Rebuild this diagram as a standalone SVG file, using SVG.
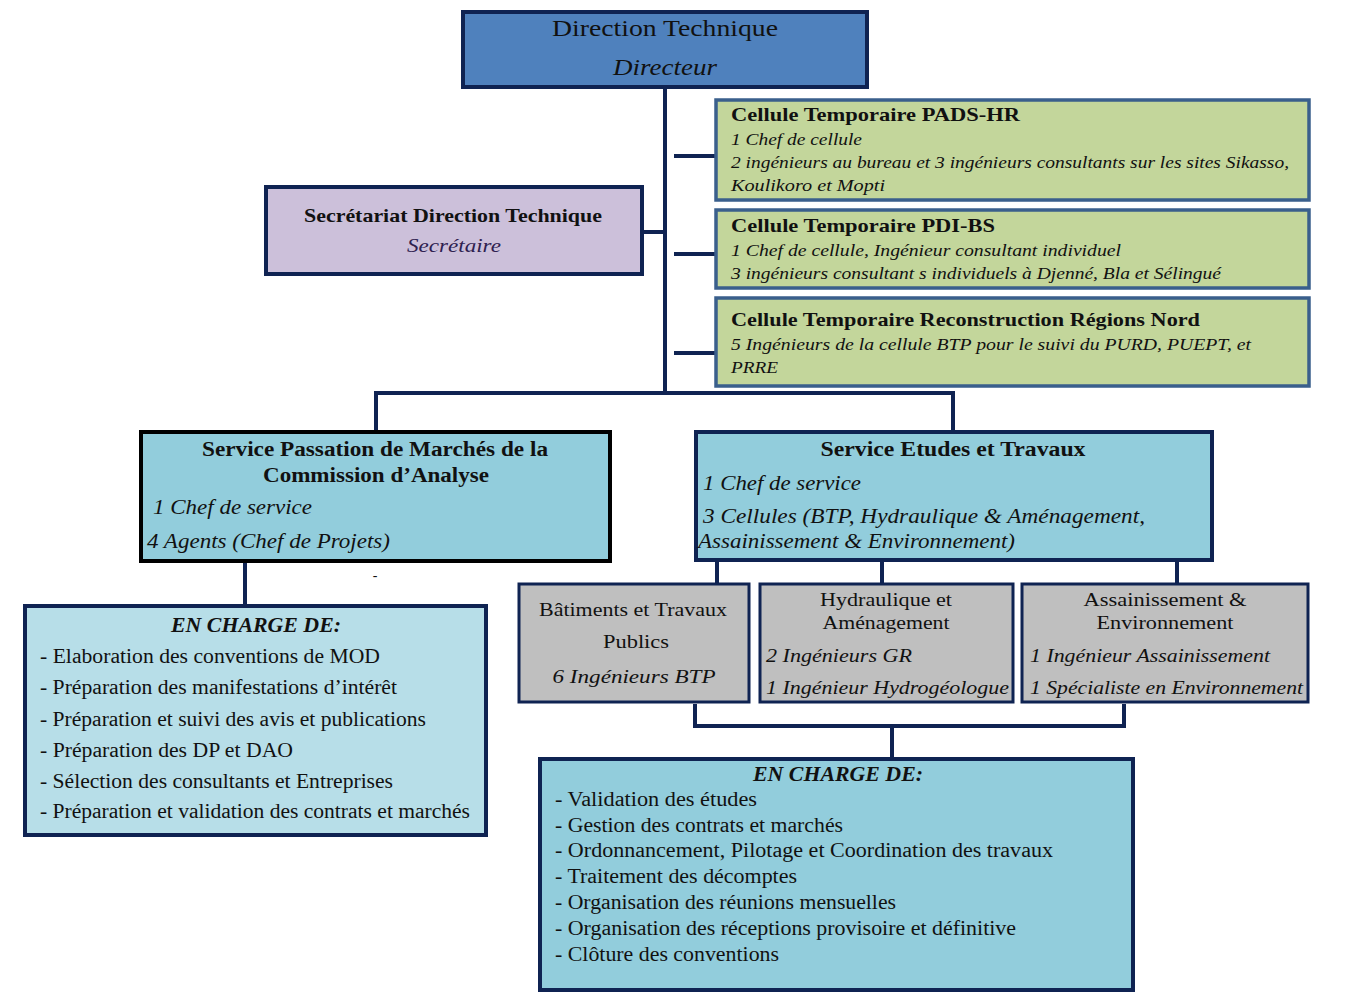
<svg xmlns="http://www.w3.org/2000/svg" width="1346" height="1004" viewBox="0 0 1346 1004" font-family="'Liberation Serif', 'DejaVu Serif', serif">
<style>
text{font-family:'Liberation Serif','DejaVu Serif',serif;fill:#111111}
.b{font-weight:bold}
.i{font-style:italic}
.c{text-anchor:middle}
.conn{stroke:#0F2352;stroke-width:4;fill:none}
.nav{stroke:#0F2352;stroke-width:4}
.grn{fill:#C3D69B;stroke:#3A5F8C;stroke-width:3.5}
.gry{fill:#BFBFBF;stroke:#0F2352;stroke-width:3}
</style>
<rect width="1346" height="1004" fill="#ffffff"/>
<g id="connectors">
<path class="conn" d="M665 87V391"/>
<path class="conn" d="M674 156H716M674 254H716M674 353H716"/>
<path class="conn" d="M643 232H665"/>
<path class="conn" d="M376 431V393H953V432"/>
<path class="conn" d="M245 561V605"/>
<path class="conn" d="M717 560V584M882 560V584M1177 560V584"/>
<path class="conn" d="M695 704V726H1124V704M892 726V758"/>
</g>
<g id="direction">
<rect x="463" y="12" width="404" height="75" fill="#4F81BD" class="nav"/>
<text x="665" y="36" class="c" font-size="24" textLength="226" lengthAdjust="spacingAndGlyphs">Direction Technique</text>
<text x="665" y="75" class="c i" font-size="24" textLength="104" lengthAdjust="spacingAndGlyphs">Directeur</text>
</g>
<g id="pads">
<rect x="716" y="100" width="593" height="100" class="grn"/>
<text x="731" y="121" class="b" font-size="19" textLength="289" lengthAdjust="spacingAndGlyphs">Cellule  Temporaire PADS-HR</text>
<text x="731" y="145" class="i" font-size="16" textLength="131" lengthAdjust="spacingAndGlyphs">1 Chef de cellule</text>
<text x="731" y="168" class="i" font-size="16" textLength="558" lengthAdjust="spacingAndGlyphs">2 ingénieurs au bureau et 3  ingénieurs consultants sur les sites Sikasso,</text>
<text x="731" y="191" class="i" font-size="16" textLength="154" lengthAdjust="spacingAndGlyphs">Koulikoro  et Mopti</text>
</g>
<g id="pdibs">
<rect x="716" y="210" width="593" height="78" class="grn"/>
<text x="731" y="232" class="b" font-size="19" textLength="264" lengthAdjust="spacingAndGlyphs">Cellule  Temporaire PDI-BS</text>
<text x="731" y="256" class="i" font-size="16" textLength="390" lengthAdjust="spacingAndGlyphs">1 Chef de cellule, Ingénieur consultant individuel</text>
<text x="731" y="279" class="i" font-size="16" textLength="490" lengthAdjust="spacingAndGlyphs">3 ingénieurs consultant s individuels à Djenné, Bla et Sélingué</text>
</g>
<g id="nord">
<rect x="716" y="298" width="593" height="88" class="grn"/>
<text x="731" y="326" class="b" font-size="19" textLength="469" lengthAdjust="spacingAndGlyphs">Cellule  Temporaire Reconstruction  Régions Nord</text>
<text x="731" y="350" class="i" font-size="16" textLength="520" lengthAdjust="spacingAndGlyphs">5 Ingénieurs  de la cellule BTP pour le suivi du PURD,  PUEPT,  et</text>
<text x="731" y="373" class="i" font-size="16" textLength="47" lengthAdjust="spacingAndGlyphs">PRRE</text>
</g>
<g id="secretariat">
<rect x="266" y="187" width="376" height="87" fill="#CCC0DA" class="nav"/>
<text x="453" y="222" class="c b" font-size="19" textLength="298" lengthAdjust="spacingAndGlyphs">Secrétariat Direction Technique</text>
<text x="454" y="252" class="c i" font-size="18" style="fill:#2E2150" textLength="94" lengthAdjust="spacingAndGlyphs">Secrétaire</text>
</g>
<g id="passation">
<rect x="141" y="432" width="469" height="129" fill="#92CDDC" stroke="#000000" stroke-width="4"/>
<text x="375" y="456" class="c b" font-size="20" textLength="346" lengthAdjust="spacingAndGlyphs">Service Passation de Marchés de la</text>
<text x="376" y="482" class="c b" font-size="20" textLength="226" lengthAdjust="spacingAndGlyphs">Commission d’Analyse</text>
<text x="153" y="514" class="i" font-size="21" textLength="159" lengthAdjust="spacingAndGlyphs">1 Chef de service</text>
<text x="147" y="548" class="i" font-size="21" textLength="243" lengthAdjust="spacingAndGlyphs">4 Agents (Chef de Projets)</text>
</g>
<text x="375" y="580" font-size="14" class="c">-</text>
<g id="etudes">
<rect x="696" y="432" width="516" height="128" fill="#92CDDC" class="nav"/>
<text x="953" y="456" class="c b" font-size="20" textLength="265" lengthAdjust="spacingAndGlyphs">Service  Etudes et Travaux</text>
<text x="703" y="490" class="i" font-size="21" textLength="158" lengthAdjust="spacingAndGlyphs">1 Chef de service</text>
<text x="703" y="523" class="i" font-size="21" textLength="442" lengthAdjust="spacingAndGlyphs">3 Cellules (BTP, Hydraulique &amp; Aménagement,</text>
<text x="698" y="548" class="i" font-size="21" textLength="317" lengthAdjust="spacingAndGlyphs">Assainissement &amp; Environnement)</text>
</g>
<g id="charge-left">
<rect x="25" y="606" width="461" height="229" fill="#B7DEE8" class="nav"/>
<text x="256" y="632" class="c b i" font-size="20" textLength="170" lengthAdjust="spacingAndGlyphs">EN CHARGE DE:</text>
<text x="40" y="663" font-size="20" textLength="340" lengthAdjust="spacingAndGlyphs">- Elaboration des conventions de MOD</text>
<text x="40" y="694" font-size="20" textLength="357" lengthAdjust="spacingAndGlyphs">- Préparation des manifestations d’intérêt</text>
<text x="40" y="726" font-size="20" textLength="386" lengthAdjust="spacingAndGlyphs">- Préparation et suivi des avis et publications</text>
<text x="40" y="757" font-size="20" textLength="253" lengthAdjust="spacingAndGlyphs">- Préparation des DP et DAO</text>
<text x="40" y="788" font-size="20" textLength="353" lengthAdjust="spacingAndGlyphs">- Sélection des consultants et Entreprises</text>
<text x="40" y="818" font-size="20" textLength="430" lengthAdjust="spacingAndGlyphs">- Préparation et validation des contrats et marchés</text>
</g>
<g id="btp">
<rect x="519" y="584" width="230" height="118" class="gry"/>
<text x="633" y="616" class="c" font-size="19" textLength="188" lengthAdjust="spacingAndGlyphs">Bâtiments et Travaux</text>
<text x="636" y="648" class="c" font-size="19" textLength="66" lengthAdjust="spacingAndGlyphs">Publics</text>
<text x="634" y="683" class="c i" font-size="19" textLength="163" lengthAdjust="spacingAndGlyphs">6 Ingénieurs BTP</text>
</g>
<g id="hydraulique">
<rect x="760" y="584" width="253" height="118" class="gry"/>
<text x="886" y="606" class="c" font-size="19" textLength="132" lengthAdjust="spacingAndGlyphs">Hydraulique et</text>
<text x="886" y="629" class="c" font-size="19" textLength="127" lengthAdjust="spacingAndGlyphs">Aménagement</text>
<text x="766" y="662" class="i" font-size="19" textLength="146" lengthAdjust="spacingAndGlyphs">2 Ingénieurs GR</text>
<text x="766" y="694" class="i" font-size="19" textLength="243" lengthAdjust="spacingAndGlyphs">1 Ingénieur Hydrogéologue</text>
</g>
<g id="assainissement">
<rect x="1022" y="584" width="286" height="118" class="gry"/>
<text x="1165" y="606" class="c" font-size="19" textLength="163" lengthAdjust="spacingAndGlyphs">Assainissement  &amp;</text>
<text x="1165" y="629" class="c" font-size="19" textLength="137" lengthAdjust="spacingAndGlyphs">Environnement</text>
<text x="1030" y="662" class="i" font-size="19" textLength="240" lengthAdjust="spacingAndGlyphs">1 Ingénieur Assainissement</text>
<text x="1030" y="694" class="i" font-size="19" textLength="273" lengthAdjust="spacingAndGlyphs">1 Spécialiste en Environnement</text>
</g>
<g id="charge-right">
<rect x="540" y="759" width="593" height="231" fill="#92CDDC" class="nav"/>
<text x="838" y="781" class="c b i" font-size="20" textLength="170" lengthAdjust="spacingAndGlyphs">EN CHARGE DE:</text>
<text x="555" y="806" font-size="20" textLength="202" lengthAdjust="spacingAndGlyphs">- Validation des études</text>
<text x="555" y="832" font-size="20" textLength="288" lengthAdjust="spacingAndGlyphs">- Gestion des contrats et marchés</text>
<text x="555" y="857" font-size="20" textLength="498" lengthAdjust="spacingAndGlyphs">- Ordonnancement, Pilotage et Coordination des   travaux</text>
<text x="555" y="883" font-size="20" textLength="242" lengthAdjust="spacingAndGlyphs">- Traitement des décomptes</text>
<text x="555" y="909" font-size="20" textLength="341" lengthAdjust="spacingAndGlyphs">- Organisation des réunions mensuelles</text>
<text x="555" y="935" font-size="20" textLength="461" lengthAdjust="spacingAndGlyphs">-  Organisation des réceptions provisoire et définitive</text>
<text x="555" y="961" font-size="20" textLength="224" lengthAdjust="spacingAndGlyphs">- Clôture des conventions</text>
</g>
</svg>
